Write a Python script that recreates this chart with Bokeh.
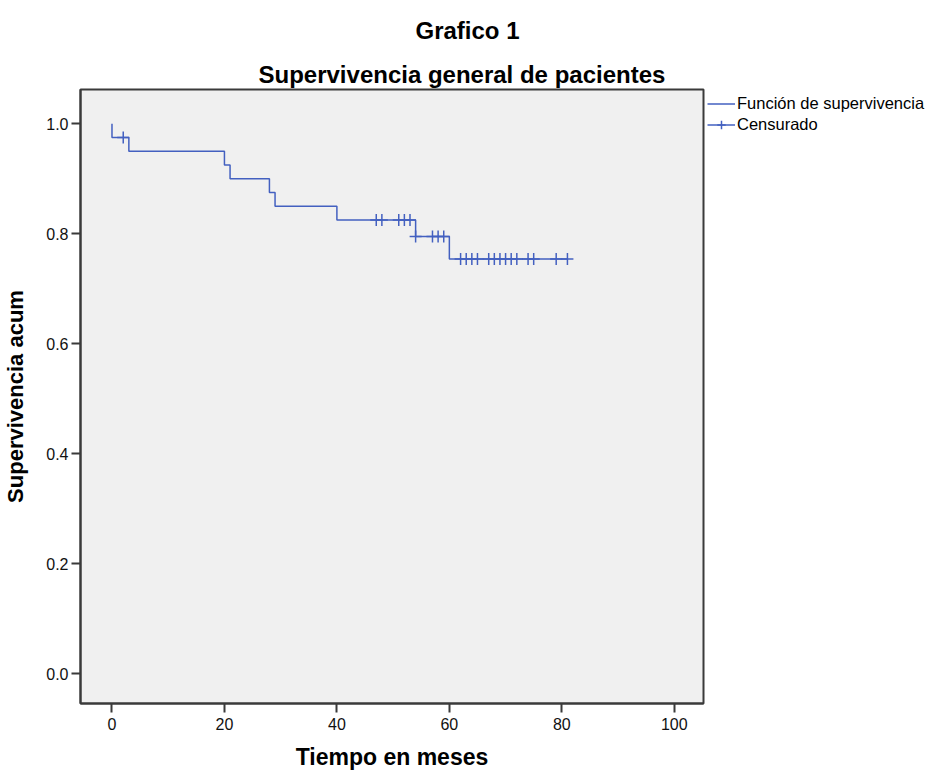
from bokeh.plotting import figure
from bokeh.models import (Range1d, FixedTicker, PrintfTickFormatter, Title, Legend, LegendItem, ColumnDataSource)
from bokeh.embed import file_html
from bokeh.resources import INLINE

# Kaplan-Meier steps
step_times = [0, 0, 3, 20, 21, 28, 29, 40, 54, 60, 81]
step_surv = [1.0, 0.975, 0.95, 0.925, 0.90, 0.875, 0.85, 0.825, 0.795, 0.754, 0.754]

# Censored observations
cens_times = [2, 47, 48, 51, 52, 53, 54, 57, 58, 59,
              62, 63, 64, 65, 67, 68, 69, 70, 71, 72, 74, 75, 79, 81]
cens_surv = [0.975, 0.825, 0.825, 0.825, 0.825, 0.825, 0.795, 0.795, 0.795, 0.795,
             0.754, 0.754, 0.754, 0.754, 0.754, 0.754, 0.754, 0.754, 0.754, 0.754,
             0.754, 0.754, 0.754, 0.754]

x_ticks = [0, 20, 40, 60, 80, 100]
y_ticks = [0.0, 0.2, 0.4, 0.6, 0.8, 1.0]

FONT = "Liberation Sans"
BLUE = "#4360c0"

p = figure(frame_width=623, frame_height=614, output_backend="svg", toolbar_location=None,
           x_range=Range1d(-5.6, 105.2), y_range=Range1d(-0.054, 1.0624),
           min_border_left=80, min_border_right=225, min_border_top=89, min_border_bottom=66,
           background_fill_color="#f0f0f0", border_fill_color="white")
p.title = None

sub = Title(text="Supervivencia general de pacientes", align="left",
            text_font=FONT, text_font_size="24px", text_font_style="bold",
            text_color="black", standoff=3, offset=178)
main = Title(text="Grafico 1", align="left",
             text_font=FONT, text_font_size="24px", text_font_style="bold",
             text_color="black", standoff=28, offset=335)
p.add_layout(sub, "above")
p.add_layout(main, "above")

p.outline_line_color = "#3a3a3a"
p.outline_line_width = 2
p.xgrid.grid_line_color = None
p.ygrid.grid_line_color = None

for ax in (p.xaxis[0], p.yaxis[0]):
    ax.axis_line_color = "#3a3a3a"
    ax.axis_line_width = 2
    ax.major_tick_line_color = "#3a3a3a"
    ax.major_tick_line_width = 2
    ax.major_tick_out = 9
    ax.major_tick_in = 0
    ax.minor_tick_line_color = None
    ax.major_label_text_font = FONT
    ax.major_label_text_font_size = "16px"
    ax.major_label_text_color = "#111111"
    ax.axis_label_text_font = FONT
    ax.axis_label_text_font_style = "bold"
    ax.axis_label_text_color = "black"

p.xaxis.ticker = FixedTicker(ticks=x_ticks)
p.yaxis.ticker = FixedTicker(ticks=y_ticks)
p.yaxis.formatter = PrintfTickFormatter(format="%.1f")
p.xaxis.axis_label = "Tiempo en meses"
p.yaxis.axis_label = "Supervivencia acum"
p.xaxis.axis_label_text_font_size = "23px"
p.yaxis.axis_label_text_font_size = "22px"
p.xaxis.major_label_standoff = 5
p.yaxis.major_label_standoff = 3
p.xaxis.axis_label_standoff = 11
p.yaxis.axis_label_standoff = 15

step_src = ColumnDataSource(dict(t=step_times, s=step_surv))
cens_src = ColumnDataSource(dict(t=cens_times, s=cens_surv))

r_step = p.step("t", "s", source=step_src, mode="after", line_color=BLUE, line_width=1.5)
r_cens = p.scatter("t", "s", source=cens_src, marker="cross", size=12,
                   line_color=BLUE, line_width=1.5)

legend = Legend(items=[
    LegendItem(label="Función de supervivencia", renderers=[r_step]),
    LegendItem(label="Censurado", renderers=[r_step, r_cens]),
], location="top_left", orientation="vertical")
legend.margin = 0
legend.padding = 4
legend.spacing = 0
legend.glyph_width = 28
legend.glyph_height = 21
legend.label_height = 21
legend.label_standoff = 2
legend.label_text_font = FONT
legend.label_text_font_size = "16.5px"
legend.label_text_color = "black"
legend.background_fill_alpha = 0
legend.border_line_alpha = 0
p.add_layout(legend, "right")

open("out.html", "w").write(file_html(p, INLINE))
